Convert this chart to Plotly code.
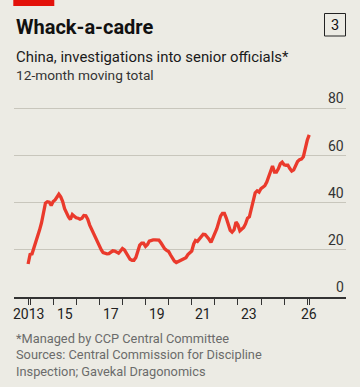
import plotly.graph_objects as go
import pandas as pd

# ---- data ----
start_month = "2013-12-01"
values = [
    14, 18, 18.3, 20.5, 23, 26, 28.5, 31.5, 36.3, 39.8, 40.4, 40.2,          # Dec13-Nov14
    38.8, 40.5, 41.2, 42.4, 43.6, 42.5, 40.5, 37.5, 35.5, 34, 32.9, 35,      # Dec14-Nov15
    34.3, 33.6, 33.4, 33, 33.4, 34.6, 34.5, 33, 30.5, 28.6, 27, 25,          # Dec15-Nov16
    23.2, 21.5, 20, 18.8, 18.5, 18.3, 18.4, 18.8, 19.6, 19.5, 19.2, 18.6,    # Dec16-Nov17
    19.5, 20.6, 20, 18.5, 17, 16, 15.6, 15.6, 16.8, 19, 22, 22.8,            # Dec17-Nov18
    22.8, 21.5, 22.3, 23.7, 24, 24.2, 24.2, 24.2, 24.1, 23, 21.7, 20.4,      # Dec18-Nov19
    19.8, 19.3, 17.8, 16.4, 15.2, 14.6, 15, 15.3, 15.8, 16.2, 16.7, 18,      # Dec19-Nov20
    18.8, 19.5, 22.5, 24, 23.6, 24.5, 25.3, 26.6, 26.5, 25.7, 24.5, 23.2,    # Dec20-Nov21
    24.9, 27, 29, 31.5, 34.3, 35.5, 35.5, 33.5, 31, 28.3, 27.5, 28.5,        # Dec21-Nov22
    31.8, 30.6, 28.1, 28.8, 29.5, 31, 33.4, 34, 37.5, 42, 44.2, 45,          # Dec22-Nov23
    44.5, 46, 46.6, 47.2, 48.8, 51, 53.8, 55.6, 53, 53, 54.4, 56.5,          # Dec23-Nov24
    57.2, 56.1, 55.9, 55.9, 54.5, 53.4, 53.9, 55.6, 57.5, 58.2, 58.5, 59.5,  # Dec24-Nov25
    63.5, 66.5, 68.8,                                                        # Dec25-Feb26
]
dates = pd.date_range(start_month, periods=len(values), freq="MS")

year_ticks = pd.date_range("2014-01-01", "2026-01-01", freq="YS")
label_dates = [dates[0], "2015-07-01", "2017-07-01", "2019-07-01",
               "2021-07-01", "2023-07-01", dates[-1]]
label_texts = ["2013", "15", "17", "19", "21", "23", "26"]
y_ticks = [0, 20, 40, 60, 80]

title = "Whack-a-cadre"
subtitle = "China, investigations into senior officials*"
subtitle2 = "12-month moving total"
footnotes = ["*Managed by CCP Central Committee",
             "Sources: Central Commission for Discipline",
             "Inspection; Gavekal Dragonomics"]
chart_no = "3"

# ---- layout geometry ----
W, H = 360, 387
L, R, T, B = 14, 14, 99, 90
PW, PH = W - L - R, H - T - B
BG = "#ecebe4"
RED = "#ea3a2c"
FONT = "Roboto, sans-serif"


def px(x):
    return (x - L) / PW


def py(y):
    return (H - B - y) / PH


fig = go.Figure()
fig.add_trace(go.Scatter(x=dates, y=values, mode="lines",
                         line=dict(color=RED, width=3.3), hoverinfo="skip"))

ann = []
# titles
ann.append(dict(text=f"<b>{title}</b>", x=px(13.5), y=py(26.5), xanchor="left",
                yanchor="middle", font=dict(size=20, color="#111111")))
ann.append(dict(text=subtitle, x=px(13.5), y=py(57), xanchor="left",
                yanchor="middle", font=dict(size=14.9, color="#1a1a1a")))
ann.append(dict(text=subtitle2, x=px(13.5), y=py(74.5), xanchor="left",
                yanchor="middle", font=dict(size=13.7, color="#333333")))
ann.append(dict(text=chart_no, x=px(335), y=py(25), xanchor="center",
                yanchor="middle", font=dict(size=14.5, color="#111111")))
for i, t in enumerate(footnotes):
    ann.append(dict(text=t, x=px(13.5), y=py(338 + i * 16.5), xanchor="left",
                    yanchor="middle", font=dict(size=12.8, color="#6b6b6b")))
for a in ann:
    a.update(xref="paper", yref="paper", showarrow=False)

# y tick labels above gridlines, right aligned
for v in y_ticks:
    ann.append(dict(text=str(v), x=1, xref="paper", y=v, yref="y",
                    xanchor="right", yanchor="middle", yshift=10,
                    showarrow=False, font=dict(size=14, color="#333333")))
# x labels
for d, t in zip(label_dates, label_texts):
    ann.append(dict(text=t, x=d, xref="x", y=py(313.5), yref="paper",
                    xanchor="center", yanchor="middle", showarrow=False,
                    font=dict(size=14, color="#222222")))

shapes = [
    dict(type="rect", xref="paper", yref="paper", x0=px(13.3), x1=px(54.3),
         y0=py(6), y1=py(-2), fillcolor="#e3120b", line=dict(width=0)),
    dict(type="rect", xref="paper", yref="paper", x0=px(324.5), x1=px(345.5),
         y0=py(36), y1=py(13.5), fillcolor="rgba(0,0,0,0)",
         line=dict(color="#222222", width=1)),
]

tickvals = list(year_ticks) + [dates[0], dates[-1]]

fig.update_layout(
    width=W, height=H, margin=dict(l=L, r=R, t=T, b=B),
    paper_bgcolor=BG, plot_bgcolor=BG, showlegend=False,
    font=dict(family=FONT),
    annotations=ann, shapes=shapes,
    xaxis=dict(range=["2013-04-22", "2027-09-06"], tickvals=tickvals,
               showticklabels=False, ticks="outside", ticklen=6,
               tickcolor="#333333", tickwidth=1, showgrid=False,
               showline=True, linecolor="#333333", linewidth=1.5,
               zeroline=False, fixedrange=True),
    yaxis=dict(range=[0, 84], tickvals=y_ticks[1:], showticklabels=False,
               showgrid=True, gridcolor="#c8c6bc", gridwidth=1,
               zeroline=False, fixedrange=True),
)

fig.write_html("out.html", config={"displayModeBar": False},
               post_script="document.body.style.margin='0';"
                           "document.body.style.background='" + BG + "';")
